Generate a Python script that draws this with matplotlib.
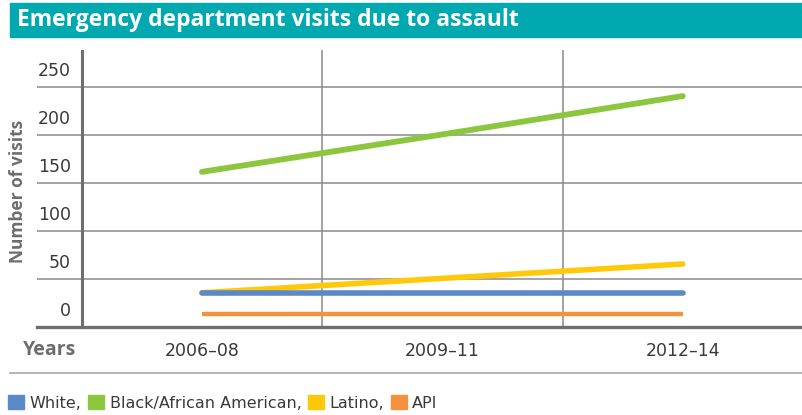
import matplotlib
matplotlib.use('Agg')
import matplotlib.pyplot as plt
import matplotlib.transforms as mtransforms
from matplotlib.patches import Rectangle, Patch

# data
periods = ['2006\u201308', '2009\u201311', '2012\u201314']
white = [36, 36, 36]
black = [162, 201, 241]
latino = [36, 51, 66]
api = [14, 14, 14]
y_ticks = [0, 50, 100, 150, 200, 250]
legend_labels = ['White,', 'Black/African American,', 'Latino,', 'API']

c_white = '#5B88C6'
c_black = '#8CC63F'
c_latino = '#FFC90A'
c_api = '#F0923E'
teal = '#00A8B0'
grid_c = '#8a8a8a'
axis_c = '#6f6f6f'
text_c = '#3a3a3a'
label_c = '#6d6d6d'

W, H = 802, 415
fig = plt.figure(figsize=(W / 100, H / 100), dpi=100)


def fx(px):
    return px / W


def fy(py):
    return 1 - py / H


# title banner
fig.patches.append(Rectangle((fx(10), fy(37)), fx(792), 34 / H, transform=fig.transFigure,
                             color=teal, zorder=0))
fig.text(fx(17), fy(20), 'Emergency department visits due to assault', color='white',
         fontsize=16.5, fontweight='bold', family='Open Sans', va='center', ha='left')

# axes: left edge at 37 px (gridlines run under the tick labels)
ax = fig.add_axes([fx(37), fy(327.3), fx(765), (327.3 - 50) / H])
x = list(range(len(periods)))
ax.set_xlim(-0.686, 2.496)
ax.set_ylim(0, 289)
for s in ax.spines.values():
    s.set_visible(False)
ax.set_xticks([])
ax.set_yticks([])

for v in y_ticks[1:]:
    ax.axhline(v, color=grid_c, lw=1.1, zorder=1)
ax.axhline(0, color=axis_c, lw=2.4, zorder=3, clip_on=False)
ax.axvline(-0.5, color=axis_c, lw=2.2, zorder=3)
for gx in [0.5, 1.5]:
    ax.axvline(gx, color=grid_c, lw=1.1, zorder=1)

ax.plot(x, api, color=c_api, lw=3.2, solid_capstyle='butt', zorder=4)
ax.plot(x, latino, color=c_latino, lw=4, solid_capstyle='round', zorder=4)
ax.plot(x, white, color=c_white, lw=4, solid_capstyle='round', zorder=5)
ax.plot(x, black, color=c_black, lw=4.2, solid_capstyle='round', zorder=4)

# y tick labels sit above their gridlines
up = mtransforms.offset_copy(ax.transData, fig=fig, x=0, y=16, units='dots')
for v in y_ticks:
    ax.text(-0.545, v, str(v), transform=up, ha='right', va='center',
            fontsize=12.5, color=text_c, family='DejaVu Sans')

fig.text(fx(18), fy(191), 'Number of visits', rotation=90, ha='center', va='center',
         fontsize=12.5, fontweight='bold', color=label_c, family='Open Sans')

# x labels
for i, p in enumerate(periods):
    ax.text(i, -25, p, ha='center', va='center', fontsize=12.5, color=text_c,
            family='DejaVu Sans', clip_on=False)
fig.text(fx(23), fy(350), 'Years', ha='left', va='center', fontsize=14,
         fontweight='bold', color=label_c, family='Open Sans')

fig.lines.append(plt.Line2D([fx(10), 1], [fy(372.5), fy(372.5)], transform=fig.transFigure,
                            color='#b0b0b0', lw=1.3))

handles = [Patch(color=c) for c in [c_white, c_black, c_latino, c_api]]
fig.legend(handles, legend_labels, loc='center left', bbox_to_anchor=(fx(2), fy(403)),
           ncol=4, frameon=False, handlelength=1.0, handleheight=1.0, handletextpad=0.35,
           columnspacing=0.4, prop={'family': 'DejaVu Sans', 'size': 11.5},
           labelcolor=text_c, borderaxespad=0)

fig.savefig('out.png', dpi=100)
